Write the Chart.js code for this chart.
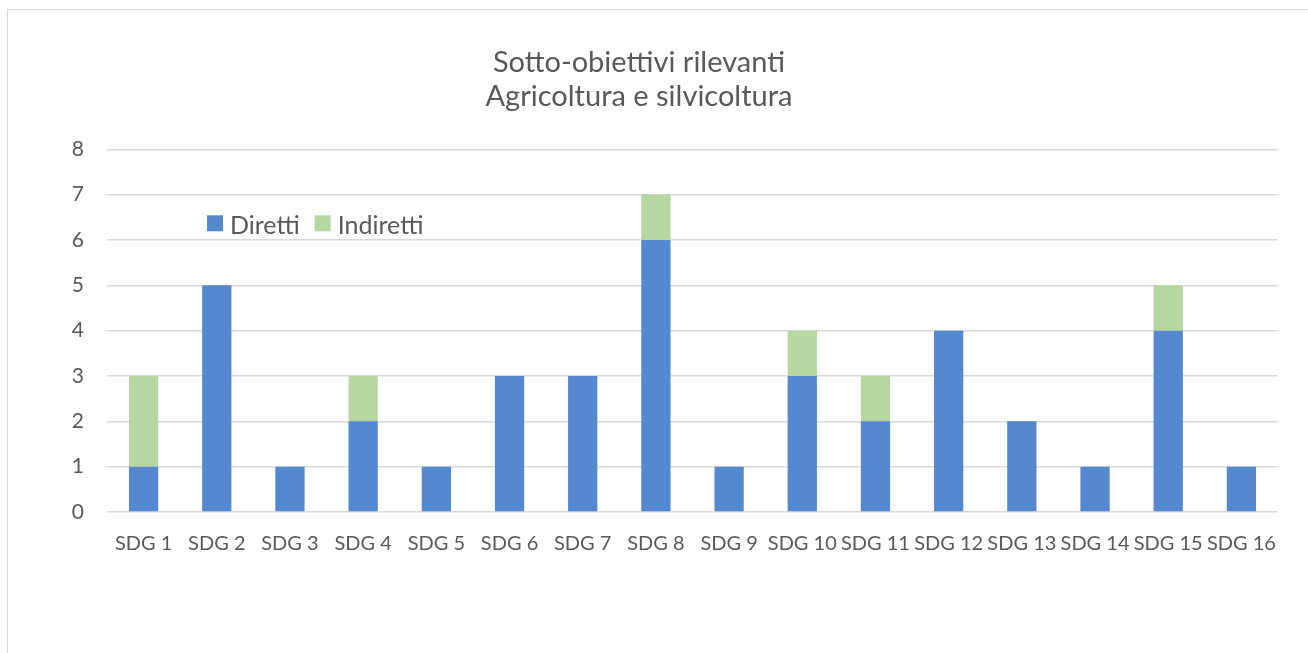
<!DOCTYPE html>
<html>
<head>
<meta charset="utf-8">
<script src="https://cdn.jsdelivr.net/npm/chart.js@4.4.1/dist/chart.umd.min.js"></script>
<style>
  html, body { margin: 0; padding: 0; background: #ffffff; }
  #wrap { position: relative; width: 1308px; height: 653px; overflow: hidden; }
  #frame { position: absolute; left: 7px; top: 9px; width: 1320px; height: 700px; border-left: 1.5px solid #d9d9d9; border-top: 1.5px solid #d9d9d9; box-sizing: border-box; }
  canvas { position: absolute; left: 0; top: 0; }
</style>
</head>
<body>
<div id="wrap">
  <div id="frame"></div>
  <canvas id="c" width="1308" height="653"></canvas>
</div>
<script>
const categories = ['SDG 1','SDG 2','SDG 3','SDG 4','SDG 5','SDG 6','SDG 7','SDG 8','SDG 9','SDG 10','SDG 11','SDG 12','SDG 13','SDG 14','SDG 15','SDG 16'];
const diretti   = [1,5,1,2,1,3,3,6,1,3,2,4,2,1,4,1];
const indiretti = [2,0,0,1,0,0,0,1,0,1,1,0,0,0,1,0];
const titleLines = ['Sotto-obiettivi rilevanti', 'Agricoltura e silvicoltura'];
const yTicks = [0,1,2,3,4,5,6,7,8];

const FONT = 'Lato, "Open Sans", sans-serif';
const TXT = '#595959';

const legendPlugin = {
  id: 'innerLegend',
  afterDraw(chart) {
    const ctx = chart.ctx;
    const area = chart.chartArea;
    let x = area.left + 100;
    const yTop = area.top + 66;
    ctx.save();
    ctx.font = '25px ' + FONT;
    ctx.textBaseline = 'alphabetic';
    chart.data.datasets.forEach(ds => {
      ctx.fillStyle = ds.backgroundColor;
      ctx.fillRect(x, yTop, 16, 16);
      x += 23;
      ctx.fillStyle = TXT;
      ctx.fillText(ds.label, x, yTop + 19);
      x += ctx.measureText(ds.label).width + 15;
    });
    ctx.restore();
  }
};

new Chart(document.getElementById('c'), {
  type: 'bar',
  data: {
    labels: categories,
    datasets: [
      { label: 'Diretti', data: diretti, backgroundColor: '#5588cf', categoryPercentage: 1, barPercentage: 0.4 },
      { label: 'Indiretti', data: indiretti, backgroundColor: '#b7d7a0', categoryPercentage: 1, barPercentage: 0.4 }
    ]
  },
  options: {
    responsive: false,
    animation: false,
    devicePixelRatio: 1,
    layout: { padding: { left: 0, right: 30, top: 0, bottom: 0 } },
    plugins: {
      legend: { display: false },
      tooltip: { enabled: false },
      title: {
        display: true,
        text: titleLines,
        color: TXT,
        font: { family: FONT, size: 29, weight: 'normal', lineHeight: 1.16 },
        padding: { top: 46, bottom: 36 }
      }
    },
    scales: {
      x: {
        stacked: true,
        grid: { display: false, drawTicks: false },
        border: { display: false },
        ticks: { color: TXT, font: { family: FONT, size: 20 }, padding: 20, maxRotation: 0, autoSkip: false },
        afterFit(scale) { scale.height = 141; }
      },
      y: {
        stacked: true,
        min: 0, max: 8,
        afterBuildTicks(scale) { scale.ticks = yTicks.map(v => ({ value: v })); },
        grid: { color: '#d9d9d9', lineWidth: 1.5, drawTicks: false },
        border: { display: false },
        ticks: { color: TXT, font: { family: FONT, size: 21 }, padding: 23 },
        afterFit(scale) { scale.width = 107; }
      }
    }
  },
  plugins: [legendPlugin]
});
</script>
</body>
</html>
